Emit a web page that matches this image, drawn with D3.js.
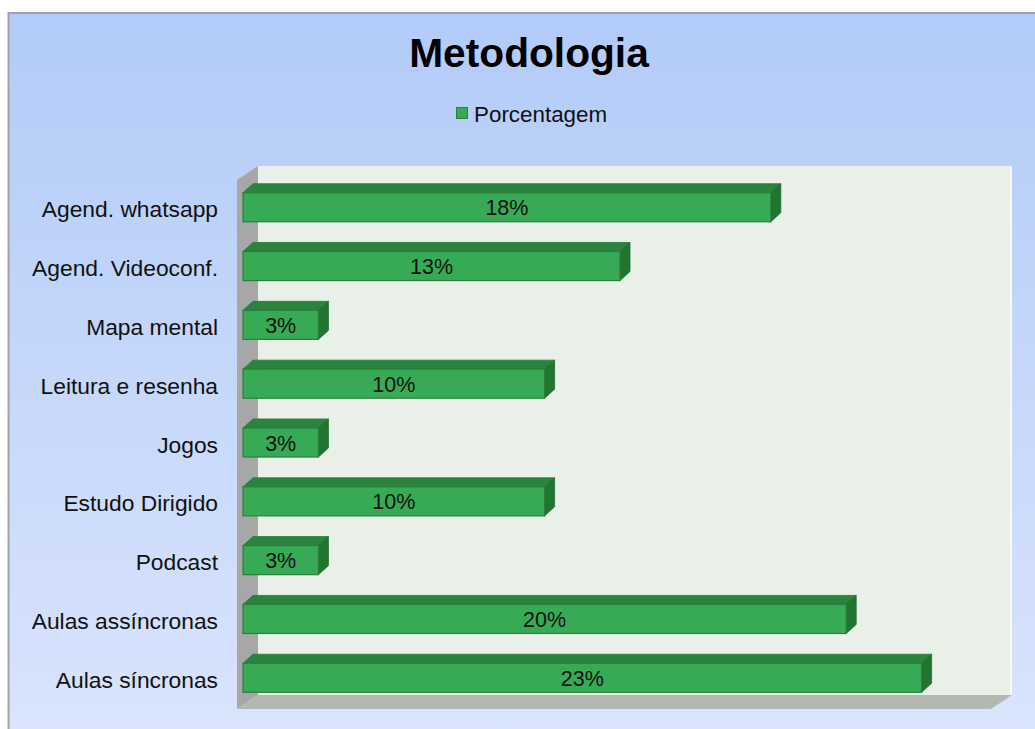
<!DOCTYPE html>
<html>
<head>
<meta charset="utf-8">
<script src="https://cdn.jsdelivr.net/npm/d3@7"></script>
<style>
  html, body { margin: 0; padding: 0; background: #ffffff; }
  svg { display: block; }
</style>
</head>
<body>
<svg id="chart" width="1035" height="729"></svg>
<script>
// ---- data ----
const title = "Metodologia";
const seriesName = "Porcentagem";
const categories = [
  "Agend. whatsapp", "Agend. Videoconf.", "Mapa mental", "Leitura e resenha",
  "Jogos", "Estudo Dirigido", "Podcast", "Aulas assíncronas", "Aulas síncronas"
];
const values = [17.5, 12.5, 2.5, 10, 2.5, 10, 2.5, 20, 22.5];
const valueLabels = ["18%", "13%", "3%", "10%", "3%", "10%", "3%", "20%", "23%"];
const xMax = 25;

// ---- layout ----
const svg = d3.select("#chart");
const W = 1035, H = 729;
const font = "'Liberation Sans', Arial, sans-serif";

const defs = svg.append("defs");
const bg = defs.append("linearGradient").attr("id", "bg").attr("x1", 0).attr("y1", 0).attr("x2", 0).attr("y2", 1);
bg.append("stop").attr("offset", "0%").attr("stop-color", "#b2cbf8");
bg.append("stop").attr("offset", "100%").attr("stop-color", "#dbe5fd");

svg.append("rect").attr("x", 8.5).attr("y", 13).attr("width", W + 20).attr("height", H + 20)
  .attr("fill", "url(#bg)").attr("stroke", "#a2a2a2").attr("stroke-width", 2);

const x = d3.scaleLinear().domain([0, xMax]).range([243, 997]);
const y = d3.scaleBand().domain(categories).range([178, 707]).paddingInner(0.506).paddingOuter(0.25);

// depth of the plot box and of the bars
const boxDx = 21, boxDy = -14;
const barDx = 10, barDy = -9;
const frontX0 = x(0) - 6, frontY1 = 709;
const backX0 = frontX0 + boxDx, backY1 = frontY1 + boxDy;
const backX1 = x(xMax) + 15, backY0 = 166;

// back wall
svg.append("rect").attr("x", backX0).attr("y", backY0).attr("width", backX1 - backX0).attr("height", backY1 - backY0)
  .attr("fill", "#e9f0e8");
svg.append("line").attr("x1", backX1 - 1).attr("x2", backX1 - 1).attr("y1", backY0).attr("y2", backY1)
  .attr("stroke", "#f6f9f4").attr("stroke-width", 2);
// left wall
svg.append("polygon").attr("points", [
  [frontX0, backY0 - boxDy], [backX0, backY0], [backX0, backY1], [frontX0, frontY1]
].map(p => p.join(",")).join(" ")).attr("fill", "#a7a7a7");
// floor
svg.append("polygon").attr("points", [
  [frontX0, frontY1], [backX0, backY1], [backX1, backY1], [backX1 - boxDx, frontY1]
].map(p => p.join(",")).join(" ")).attr("fill", "#b4b8b0");

// bars
const bars = svg.append("g").selectAll("g").data(categories).join("g");
bars.each(function (c, i) {
  const g = d3.select(this);
  const x0 = x(0), x1 = x(values[i]);
  const y0 = y(c), h = y.bandwidth();
  // top face
  g.append("polygon").attr("points", [
    [x0, y0], [x0 + barDx, y0 + barDy], [x1 + barDx, y0 + barDy], [x1, y0]
  ].map(p => p.join(",")).join(" ")).attr("fill", "#2a843e").attr("stroke", "#247636").attr("stroke-width", 0.8);
  // right face
  g.append("polygon").attr("points", [
    [x1, y0], [x1 + barDx, y0 + barDy], [x1 + barDx, y0 + h + barDy], [x1, y0 + h]
  ].map(p => p.join(",")).join(" ")).attr("fill", "#22752f").attr("stroke", "#1f6c2c").attr("stroke-width", 0.8);
  // front face
  g.append("rect").attr("x", x0).attr("y", y0).attr("width", x1 - x0).attr("height", h)
    .attr("fill", "#36aa55").attr("stroke", "#2a7f3c").attr("stroke-width", 1.2);
  // value label
  g.append("text").attr("x", (x0 + x1) / 2).attr("y", y0 + h / 2 + 8)
    .attr("text-anchor", "middle").attr("font-family", font).attr("font-size", 21.5)
    .attr("fill", "#111").text(valueLabels[i]);
});

// category axis labels
svg.append("g").selectAll("text").data(categories).join("text")
  .attr("x", 218).attr("y", d => y(d) + y.bandwidth() / 2 + 10)
  .attr("text-anchor", "end").attr("font-family", font).attr("font-size", 22.8)
  .attr("fill", "#111").text(d => d);

// title
svg.append("text").attr("x", 529).attr("y", 67).attr("text-anchor", "middle")
  .attr("font-family", font).attr("font-size", 40.7).attr("font-weight", "bold")
  .attr("fill", "#000").text(title);

// legend
svg.append("rect").attr("x", 456.5).attr("y", 107.5).attr("width", 11).attr("height", 11)
  .attr("fill", "#36aa55").attr("stroke", "#2a7f3c").attr("stroke-width", 1);
svg.append("text").attr("x", 474).attr("y", 122).attr("font-family", font).attr("font-size", 22.4)
  .attr("fill", "#111").text(seriesName);
</script>
</body>
</html>
